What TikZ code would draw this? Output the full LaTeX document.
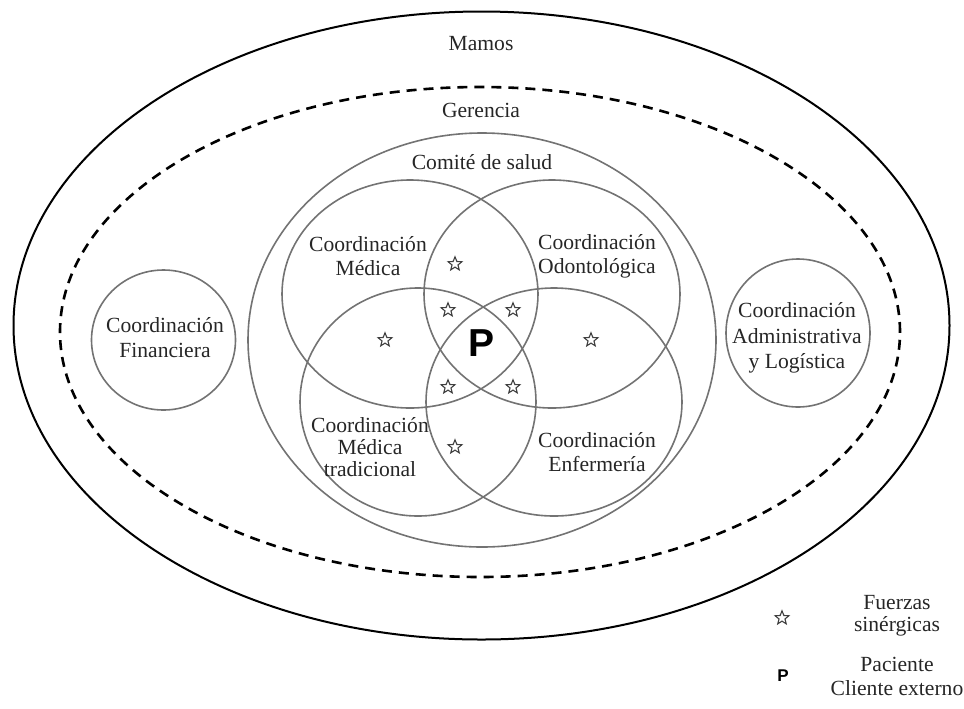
\documentclass[tikz,border=0pt]{standalone}
\usepackage{fontspec}
\setmainfont{Liberation Serif}
\newfontfamily\pfont{Liberation Sans}
\usetikzlibrary{shapes.geometric}

\begin{document}
\begin{tikzpicture}[x=0.5pt,y=-0.5pt]
      \tikzstyle{ring}=[draw=black!55,line width=0.8pt]
      \tikzstyle{lbl}=[align=center,inner sep=0pt,text=black!85,font=\fontsize{10.8}{12}\selectfont]
      \tikzstyle{fz}=[star,star points=5,star point ratio=2.3,draw=black!75,line width=0.55pt,minimum size=7.2pt,inner sep=0pt]
      \useasboundingbox (0,0) rectangle (964,708);
      % outer levels
      \draw[line width=1pt] (481.5,325.5) ellipse [x radius=234pt,y radius=157pt];
      \draw[line width=1.3pt,dash pattern=on 5pt off 3.5pt] (480,332) ellipse [x radius=210pt,y radius=122.5pt];
      % committee and coordinations
      \draw[ring] (482,340) ellipse [x radius=117pt,y radius=103.5pt];
      \draw[ring] (410,294) ellipse [x radius=64pt,y radius=57pt];
      \draw[ring] (552,294) ellipse [x radius=64pt,y radius=57pt];
      \draw[ring] (418,402) ellipse [x radius=59pt,y radius=57pt];
      \draw[ring] (554,402) ellipse [x radius=64pt,y radius=57pt];
      \draw[ring] (163.5,340) ellipse [x radius=36pt,y radius=35pt];
      \draw[ring] (798,333) ellipse [x radius=36pt,y radius=37pt];
      % labels
      \node[lbl] (mamos) at (481,44) {Mamos};
      \node[lbl] (gerencia) at (481,110) {Gerencia};
      \node[lbl] (comite) at (482,162) {Comité de salud};
      \node[lbl] (medica) at (368,256) {Coordinación\\Médica};
      \node[lbl] (odonto) at (597,256) {Coordinación\\Odontológica};
      \node[lbl,font=\fontsize{10.8}{10.8}\selectfont] (tradicional) at (370,447) {Coordinación\\Médica\\tradicional};
      \node[lbl] (enfermeria) at (597,452) {Coordinación\\Enfermería};
      \node[lbl,font=\fontsize{10.8}{12.5}\selectfont] (financiera) at (165,338) {Coordinación\\Financiera};
      \node[lbl,font=\fontsize{10.8}{12.7}\selectfont] (admin) at (797,338) {Coordinación\\Administrativa\\y Logística};
      % synergies
      \foreach \p in {(455,264),(448,310),(513,310),(385,340),(591,340),(448,387),(513,387),(455,447)}
        \node[fz] at \p {};
      \node[inner sep=0pt,font=\pfont\bfseries\fontsize{19.5}{20}\selectfont] (paciente) at (482,343) {P};
      % legend
      \node[fz] (leyfz) at (782,618) {};
      \node[lbl,font=\fontsize{10.8}{11}\selectfont] (fuerzas) at (897,616) {Fuerzas\\sinérgicas};
      \node[inner sep=0pt,font=\pfont\bfseries\fontsize{8.5}{9}\selectfont] (leyp) at (783,676) {P};
      \node[lbl] (cliente) at (897,676) {Paciente\\Cliente externo};
\end{tikzpicture}
\end{document}
